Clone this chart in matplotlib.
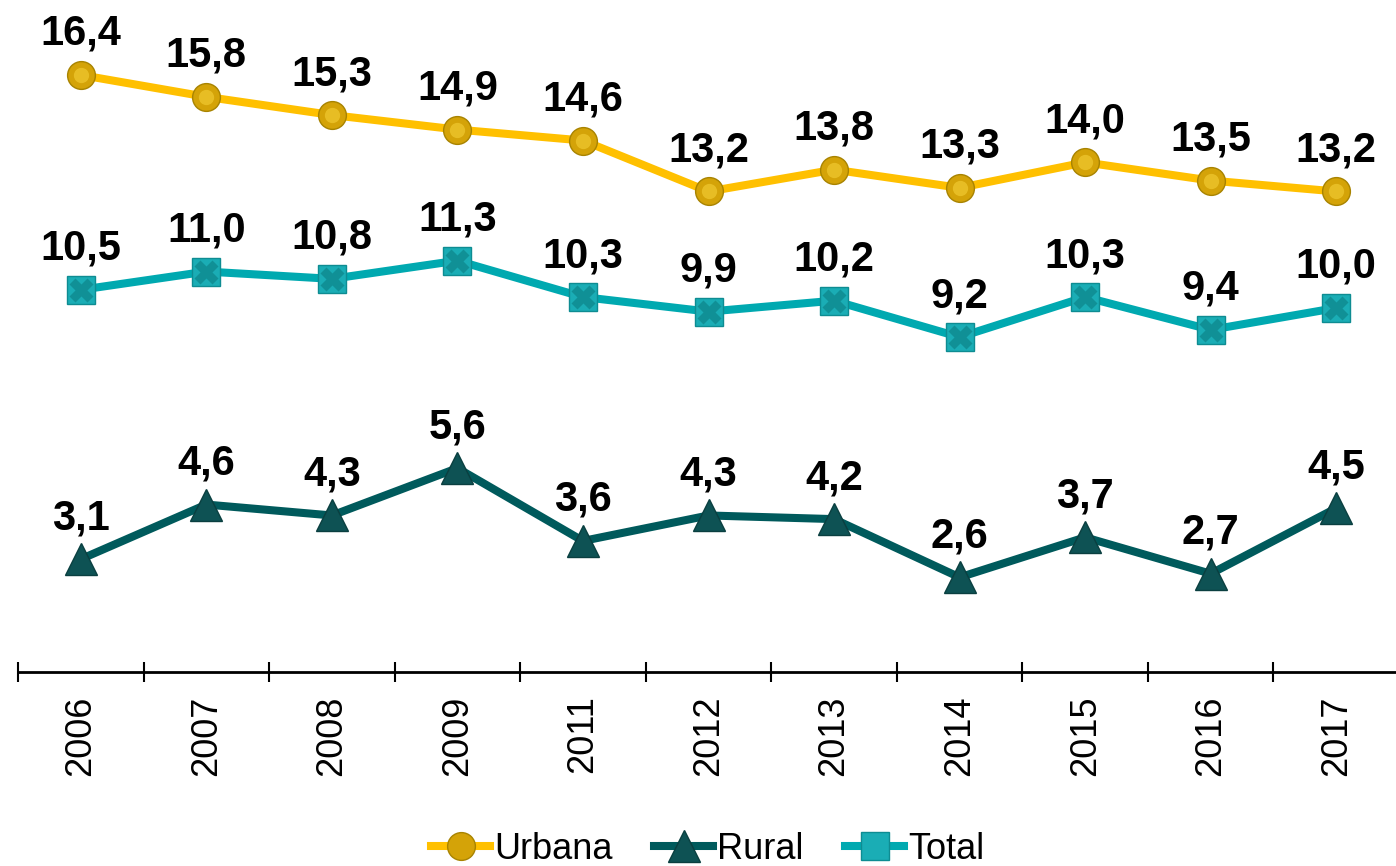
import matplotlib
matplotlib.use("Agg")
import matplotlib.pyplot as plt
from matplotlib import font_manager as fm

years = ["2006", "2007", "2008", "2009", "2011", "2012", "2013", "2014", "2015", "2016", "2017"]
urbana = [16.4, 15.8, 15.3, 14.9, 14.6, 13.2, 13.8, 13.3, 14.0, 13.5, 13.2]
rural = [3.1, 4.6, 4.3, 5.6, 3.6, 4.3, 4.2, 2.6, 3.7, 2.7, 4.5]
total = [10.5, 11.0, 10.8, 11.3, 10.3, 9.9, 10.2, 9.2, 10.3, 9.4, 10.0]

names = {f.name for f in fm.fontManager.ttflist}
base_font = "Liberation Sans" if "Liberation Sans" in names else "DejaVu Sans"
plt.rcParams["font.family"] = [base_font, "DejaVu Sans"]

fig = plt.figure(figsize=(13.96, 8.66), dpi=100)
ax = fig.add_axes([18 / 1396, 194 / 866, 1381 / 1396, 672 / 866])
x = list(range(len(years)))

c_urb_line, c_urb_face, c_urb_edge, c_urb_hi = "#FFC000", "#D4A308", "#A88300", "#F0C930"
c_rur_line, c_rur_face, c_rur_edge = "#005A5C", "#0E5254", "#0A3F40"
c_tot_line, c_tot_face, c_tot_edge, c_tot_x = "#00A9B0", "#1AADB5", "#0E8C92", "#0C848A"

lu, = ax.plot(x, urbana, color=c_urb_line, lw=5.8, marker="o", ms=20,
              mfc=c_urb_face, mec=c_urb_edge, mew=1.0, label="Urbana", zorder=3)
ax.plot(x, urbana, ls="none", marker="o", ms=11, mfc=c_urb_hi, mec="none", alpha=0.7, zorder=4)

lr, = ax.plot(x, rural, color=c_rur_line, lw=5.8, marker="^", ms=23,
              mfc=c_rur_face, mec=c_rur_edge, mew=1.0, label="Rural", zorder=3)

lt, = ax.plot(x, total, color=c_tot_line, lw=5.8, marker="s", ms=19.5,
              mfc=c_tot_face, mec=c_tot_edge, mew=1.0, label="Total", zorder=3)
ax.plot(x, total, ls="none", marker="X", ms=17, mfc=c_tot_x, mec="none", alpha=0.7, zorder=4)

def fmt(v):
    return f"{v:.1f}".replace(".", ",")

for series in (urbana, total, rural):
    for xi, v in zip(x, series):
        ax.annotate(fmt(v), (xi, v), xytext=(0, 21.6), textcoords="offset points",
                    ha="center", va="baseline", fontsize=30, fontweight="bold",
                    color="black", zorder=5)

ax.set_xlim(-0.5, len(years) - 0.5)
ax.set_ylim(0, 18.46)
for s in ("top", "right", "left"):
    ax.spines[s].set_visible(False)
ax.spines["bottom"].set_linewidth(2.0)
ax.spines["bottom"].set_color("black")
ax.set_yticks([])
ax.set_xticks([i - 0.5 for i in range(len(years) + 1)])
ax.set_xticklabels([])
ax.set_xticks(x, minor=True)
ax.set_xticklabels(years, minor=True, rotation=90, fontsize=26, va="top")
ax.tick_params(axis="x", which="major", direction="inout", length=14.4, width=1.5, color="black")
ax.tick_params(axis="x", which="minor", length=0, pad=17)

fig.legend(handles=[lu, lr, lt], loc="center", bbox_to_anchor=(0.507, 0.019),
           ncol=3, frameon=False, fontsize=26, handlelength=1.63, handletextpad=0.11,
           columnspacing=1.16, borderaxespad=0, borderpad=0)

fig.savefig("out.png", dpi=100)
